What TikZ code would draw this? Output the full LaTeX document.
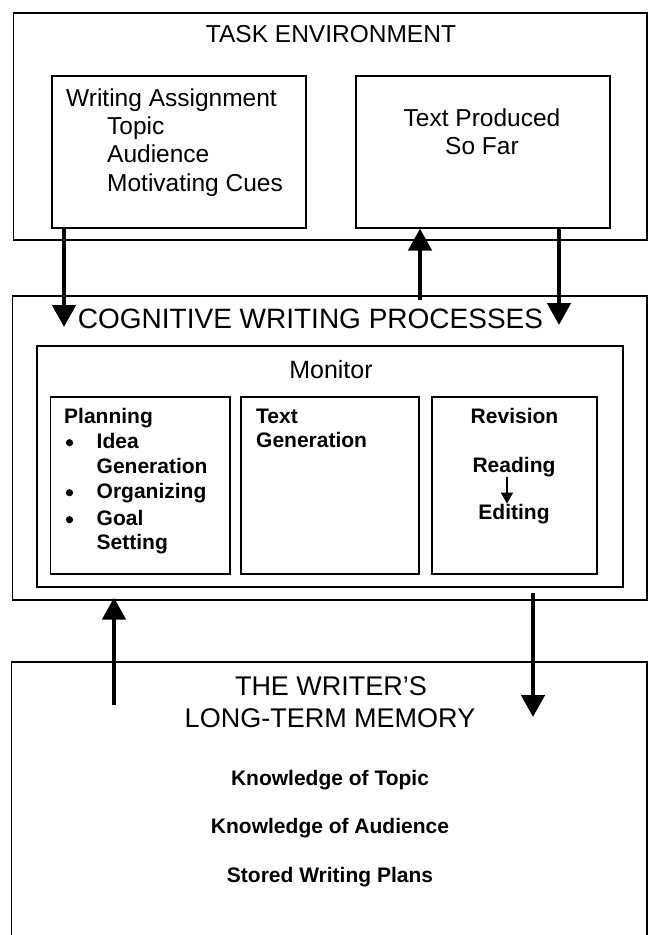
\documentclass[tikz,border=0pt]{standalone}
\usepackage{fontspec}
\setmainfont{Liberation Sans}
\usetikzlibrary{arrows.meta,positioning}

\begin{document}
\begin{tikzpicture}[
  x=1pt,y=-1pt,
  frame/.style={draw=black,line width=1.2pt},
  box/.style={frame,inner sep=0pt},
  plain/.style={inner sep=0pt,font=\fontsize{24.5}{28}\selectfont},
  head/.style={inner sep=0pt,font=\fontsize{27}{30}\selectfont},
  boldtext/.style={inner sep=0pt,font=\fontsize{21}{25}\selectfont\bfseries},
  bigarrow/.style={line width=4.6pt,-{Triangle[length=22pt,width=23pt]}},
  smallarrow/.style={line width=1.2pt,-{Triangle[length=11pt,width=12pt]}}
]
  \useasboundingbox (0,0) rectangle (649,935);

  % Task environment.
  \node[box,minimum width=633.5pt,minimum height=227pt] (task) at (330.25,126.5) {};
  \node[plain,anchor=base] (tasktitle) at (331,42.5) {TASK ENVIRONMENT};
  \node[box,minimum width=254pt,minimum height=152pt] (assign) at (179,152) {};
  \node[box,minimum width=254pt,minimum height=152pt] (sofar) at (483,152) {};
  \node[plain,anchor=base west] (assigntitle) at (66,106) {Writing Assignment};
  \foreach \txt/\y [count=\i] in {Topic/134,Audience/162,Motivating Cues/191}
    \node[plain,anchor=base west] (assign\i) at (107,\y) {\txt};
  \node[plain,anchor=base] (sofar1) at (482,126) {Text Produced};
  \node[plain,anchor=base] (sofar2) at (482,154) {So Far};

  % Cognitive writing processes.
  \node[box,minimum width=634.5pt,minimum height=304pt] (cwp) at (329.75,448) {};
  \node[font=\fontsize{28}{32}\selectfont,inner sep=0pt,anchor=base] (cwptitle) at (310.5,328) {COGNITIVE WRITING PROCESSES};
  \node[box,minimum width=586pt,minimum height=241pt] (mon) at (330,466.5) {};
  \node[inner sep=0pt,font=\fontsize{25}{28}\selectfont,anchor=base] (montitle) at (331,378) {Monitor};

  \node[box,minimum width=179.5pt,minimum height=177pt] (plan) at (140.25,485.5) {};
  \node[box,minimum width=178pt,minimum height=177pt] (tgen) at (330,485.5) {};
  \node[box,minimum width=165pt,minimum height=177pt] (rev) at (514.5,485.5) {};

  \node[boldtext,anchor=base west] (plantitle) at (64,423) {Planning};
  \foreach \txt/\y [count=\i] in {Idea/448,Generation/473,Organizing/498,Goal/525,Setting/549}
    \node[boldtext,anchor=base west] (plan\i) at (96.5,\y) {\txt};
  \foreach \y in {448,498,525}
    \fill (69.5,{\y-5.3}) circle (3.6pt);

  \node[boldtext,anchor=base west] (tgen1) at (256,423) {Text};
  \node[boldtext,anchor=base west] (tgen2) at (256,447) {Generation};

  \node[boldtext,anchor=base] (revtitle) at (514.5,423) {Revision};
  \node[boldtext,anchor=base] (read) at (514,472) {Reading};
  \node[boldtext,anchor=base] (edit) at (514,519) {Editing};
  \draw[smallarrow] ([xshift=-7pt]read.south) -- ([xshift=-7pt]edit.north);

  % Long-term memory, open at the bottom.
  \draw[frame] (11.5,935) |- (647,662) -- (647,935);
  \node[head,anchor=base] (ltm1) at (331,695) {THE WRITER’S};
  \node[head,anchor=base] (ltm2) at (330,727) {LONG-TERM MEMORY};
  \foreach \txt/\y [count=\i] in {Knowledge of Topic/785,Knowledge of Audience/833,Stored Writing Plans/882}
    \node[boldtext,anchor=base] (know\i) at (330,\y) {\txt};

  % Flow arrows.
  \coordinate (assignend) at (64,327);
  \coordinate (feedstart) at (420,300);
  \coordinate (sofarend) at (559,325);
  \coordinate (memstart) at (114,705);
  \coordinate (memend) at (533,717);
  \draw[bigarrow] (assign.south -| assignend) -- (assignend);
  \draw[bigarrow] (feedstart) -- (sofar.south -| feedstart);
  \draw[bigarrow] (sofar.south -| sofarend) -- (sofarend);
  \draw[bigarrow] (memstart) -- ([yshift=3pt]cwp.south -| memstart);
  \draw[bigarrow,shorten <=5pt] (mon.south -| memend) -- (memend);
\end{tikzpicture}
\end{document}
